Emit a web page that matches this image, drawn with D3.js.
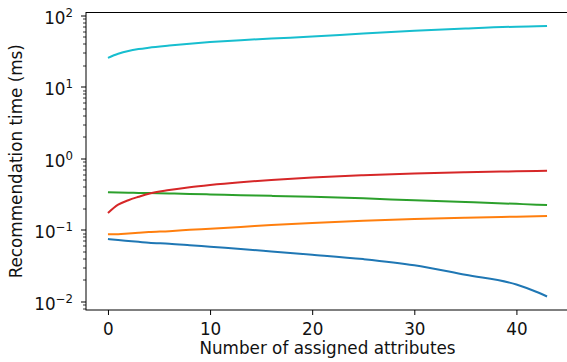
<!DOCTYPE html>
<html>
<head>
<meta charset="utf-8">
<script src="https://cdn.jsdelivr.net/npm/d3@7"></script>
<style>
  body { margin: 0; background: #fff; }
  svg { display: block; font-family: "DejaVu Sans", sans-serif; }
</style>
</head>
<body>
<div id="chart"></div>
<script>
// x positions (number of assigned attributes) where values were read
const attrs = [0, 1, 2, 3, 4, 6, 8, 10, 13, 16, 20, 25, 30, 35, 40, 42, 43];

// recommendation time (ms) per series
const cyanTimes   = [25.5, 29, 31.8, 33.8, 35.3, 37.8, 40.2, 42.3, 45, 47.5, 50.5, 56, 61, 65.5, 69.5, 70.5, 71];
const redTimes    = [0.172, 0.225, 0.26, 0.29, 0.32, 0.36, 0.395, 0.425, 0.465, 0.5, 0.54, 0.58, 0.615, 0.64, 0.66, 0.668, 0.67];
const greenTimes  = [0.335, 0.333, 0.331, 0.329, 0.327, 0.323, 0.318, 0.313, 0.306, 0.299, 0.29, 0.276, 0.259, 0.245, 0.231, 0.225, 0.222];
const orangeTimes = [0.087, 0.087, 0.089, 0.091, 0.093, 0.096, 0.1, 0.104, 0.11, 0.117, 0.125, 0.134, 0.142, 0.148, 0.153, 0.155, 0.156];
const blueTimes   = [0.0745, 0.072, 0.07, 0.068, 0.066, 0.064, 0.061, 0.058, 0.054, 0.05, 0.045, 0.039, 0.032, 0.0235, 0.0172, 0.0135, 0.0117];

const xTicks = [0, 10, 20, 30, 40];
const yExponents = [-2, -1, 0, 1, 2];

const series = [
  { values: blueTimes, color: '#1f77b4' },
  { values: orangeTimes, color: '#ff7f0e' },
  { values: greenTimes, color: '#2ca02c' },
  { values: redTimes, color: '#d62728' },
  { values: cyanTimes, color: '#17becf' }
];

const W = 567, H = 362;
const margin = { top: 12.5, right: -2, bottom: 52, left: 86 };
const width = W - margin.left - margin.right;
const height = H - margin.top - margin.bottom;
const fontSize = 16.8;

const svg = d3.select('#chart')
  .append('svg')
  .attr('width', W)
  .attr('height', H);

const g = svg.append('g')
  .attr('transform', `translate(${margin.left},${margin.top})`);

// matplotlib-like 5% margins
const xMin = d3.min(attrs), xMax = d3.max(attrs);
const xPad = (xMax - xMin) * 0.05;
const x = d3.scaleLinear()
  .domain([xMin - xPad, xMax + xPad])
  .range([0, width]);

const allVals = series.flatMap(s => s.values);
const lMin = Math.log10(d3.min(allVals)), lMax = Math.log10(d3.max(allVals));
const lPad = (lMax - lMin) * 0.05;
const y = d3.scaleLog()
  .domain([Math.pow(10, lMin - lPad), Math.pow(10, lMax + lPad)])
  .range([height, 0]);

// lines
const line = d3.line()
  .x(d => x(d[0]))
  .y(d => y(d[1]))
  .curve(d3.curveMonotoneX);

g.selectAll('.series')
  .data(series)
  .enter()
  .append('path')
  .attr('class', 'series')
  .attr('d', s => line(attrs.map((a, i) => [a, s.values[i]])))
  .attr('fill', 'none')
  .attr('stroke', s => s.color)
  .attr('stroke-width', 2)
  .attr('stroke-linejoin', 'round')
  .attr('stroke-linecap', 'butt');

// x axis
const xAxis = g.append('g')
  .attr('transform', `translate(0,${height})`)
  .call(d3.axisBottom(x).tickValues(xTicks).tickSize(5).tickPadding(8).tickFormat(d3.format('d')));
xAxis.select('.domain').remove();
xAxis.selectAll('.tick line').attr('stroke', '#000').attr('stroke-width', 1);
xAxis.selectAll('.tick text')
  .attr('fill', '#111')
  .style('font-size', fontSize + 'px')
  .style('font-family', '"DejaVu Sans", sans-serif');

// y axis: major + minor log ticks
const [d0, d1] = y.domain();
const minorTicks = [];
for (let e = Math.floor(Math.log10(d0)); e <= Math.ceil(Math.log10(d1)); e++) {
  for (let k = 2; k <= 9; k++) {
    const v = k * Math.pow(10, e);
    if (v >= d0 && v <= d1) minorTicks.push(v);
  }
}
g.append('g').selectAll('line')
  .data(minorTicks)
  .enter()
  .append('line')
  .attr('x1', -3)
  .attr('x2', 0)
  .attr('y1', d => Math.round(y(d)) + 0.5)
  .attr('y2', d => Math.round(y(d)) + 0.5)
  .attr('stroke', '#000')
  .attr('stroke-width', 0.8);

const yMajor = g.append('g').selectAll('g')
  .data(yExponents)
  .enter()
  .append('g')
  .attr('transform', e => `translate(0,${Math.round(y(Math.pow(10, e))) + 0.5})`);
yMajor.append('line')
  .attr('x1', -5)
  .attr('x2', 0)
  .attr('stroke', '#000')
  .attr('stroke-width', 1);
const yLab = yMajor.append('text')
  .attr('x', -13)
  .attr('y', 8)
  .attr('text-anchor', 'end')
  .attr('fill', '#111')
  .style('font-size', fontSize + 'px');
yLab.append('tspan').text('10');
yLab.append('tspan')
  .attr('dy', -7)
  .style('font-size', (fontSize * 0.7) + 'px')
  .text(e => (e < 0 ? '\u2212' : '') + Math.abs(e));

// spines
g.append('rect')
  .attr('x', 0)
  .attr('y', 0)
  .attr('width', width)
  .attr('height', height)
  .attr('fill', 'none')
  .attr('stroke', '#000')
  .attr('stroke-width', 1);

// axis labels
svg.append('text')
  .attr('x', margin.left + width / 2)
  .attr('y', 354)
  .attr('text-anchor', 'middle')
  .attr('fill', '#111')
  .style('font-size', fontSize + 'px')
  .text('Number of assigned attributes');

svg.append('text')
  .attr('transform', `translate(22,${margin.top + height / 2}) rotate(-90)`)
  .attr('text-anchor', 'middle')
  .attr('fill', '#111')
  .style('font-size', fontSize + 'px')
  .text('Recommendation time (ms)');
</script>
</body>
</html>
